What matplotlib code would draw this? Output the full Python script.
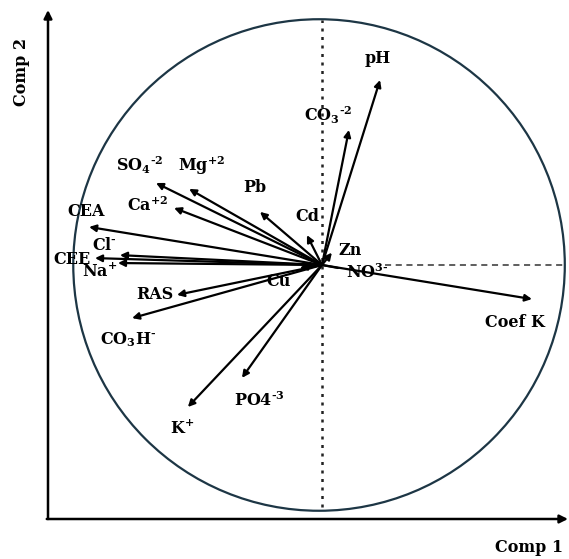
import matplotlib
matplotlib.use("Agg")
import matplotlib.pyplot as plt
import numpy as np
from matplotlib.patches import Circle

plt.rcParams['mathtext.fontset'] = 'custom'
plt.rcParams['mathtext.rm'] = 'DejaVu Serif:bold'
plt.rcParams['mathtext.it'] = 'DejaVu Serif:bold'
plt.rcParams['mathtext.bf'] = 'DejaVu Serif:bold'

# ---- data: loadings on Comp 1 / Comp 2 ----
variables = ['pH', 'CO3-2', 'Cd', 'Pb', 'Mg+2', 'SO4-2', 'Ca+2', 'CEA', 'Cl-', 'CEE',
             'Na+', 'Cu', 'RAS', 'CO3H-', 'K+', 'PO4-3', 'Coef K', 'Zn', 'NO3-']
comp1 = [0.235, 0.109, -0.061, -0.251, -0.538, -0.672, -0.599, -0.943, -0.818, -0.919,
         -0.826, -0.090, -0.587, -0.769, -0.543, -0.324, 0.850, 0.040, 0.065]
comp2 = [0.749, 0.547, 0.121, 0.215, 0.308, 0.332, 0.231, 0.154, 0.040, 0.028,
         0.008, -0.012, -0.121, -0.215, -0.575, -0.457, -0.138, 0.050, -0.012]
display = ['pH', r'CO$_3$$^{\text{-}2}$', 'Cd', 'Pb', r'Mg$^{+2}$', r'SO$_4$$^{\text{-}2}$',
           r'Ca$^{+2}$', 'CEA', r'Cl$^{\text{-}}$', 'CEE', r'Na$^{+}$', 'Cu', 'RAS',
           r'CO$_3$H$^{\text{-}}$', r'K$^{+}$', r'PO4$^{\text{-}3}$', 'Coef K', 'Zn',
           r'NO$^{3\text{-}}$']

# label placement (layout only)
label_xy = [(0.227, 0.838), (0.025, 0.607), (-0.061, 0.198), (-0.271, 0.312), (-0.486, 0.401),
            (-0.737, 0.405), (-0.704, 0.239), (-0.955, 0.215), (-0.879, 0.077), (-1.012, 0.024),
            (-0.899, -0.024), (-0.174, -0.065), (-0.676, -0.121), (-0.785, -0.304), (-0.567, -0.660),
            (-0.255, -0.551), (0.781, -0.231), (0.112, 0.057), (0.184, -0.032)]
no_head = {'NO3-'}

W, H = 569, 559
cx, cy, R = 322, 265, 247
fig = plt.figure(figsize=(W / 100, H / 100), dpi=100)
ax = fig.add_axes([0, 0, 1, 1])
ax.set_xlim(-cx / R, (W - cx) / R)
ax.set_ylim((cy - H) / R, cy / R)
ax.set_aspect('equal')
ax.axis('off')

# circle
ax.add_patch(Circle((-0.012, 0), 0.995, fill=False, ec='#1d3645', lw=1.6))
# dotted vertical line
ax.plot([0, 0], [-0.98, 0.99], color='#222222', lw=1.8, ls=(0, (1.2, 2.2)))
# dashed horizontal line
ax.plot([(385 - cx) / R, 0.98], [0, 0], color='#333333', lw=1.1, ls=(0, (4, 3)))

# main axes with arrows
x0 = (48 - cx) / R
y0 = (cy - 519) / R
ax.annotate('', xy=(x0, (cy - 10) / R), xytext=(x0, y0),
            arrowprops=dict(arrowstyle='-|>', lw=1.8, color='black', mutation_scale=12,
                            shrinkA=0, shrinkB=0))
ax.annotate('', xy=((W - 1 - cx) / R, y0), xytext=(x0 - 0.005, y0),
            arrowprops=dict(arrowstyle='-|>', lw=1.8, color='black', mutation_scale=12,
                            shrinkA=0, shrinkB=0))

fs = 11.5
fam = 'DejaVu Serif'
ax.text((22 - cx) / R, (cy - 72) / R, 'Comp 2', rotation=90, ha='center', va='center',
        fontsize=fs, fontweight='bold', family=fam)
ax.text((529 - cx) / R, (cy - 548) / R, 'Comp 1', ha='center', va='center',
        fontsize=fs, fontweight='bold', family=fam)

for name, x, y, lab, (lx, ly) in zip(variables, comp1, comp2, display, label_xy):
    style = '-' if name in no_head else '-|>'
    ax.annotate('', xy=(x, y), xytext=(0, 0),
                arrowprops=dict(arrowstyle=style, lw=1.6, color='black', mutation_scale=10,
                                shrinkA=0, shrinkB=0))
    ax.text(lx, ly, lab, ha='center', va='center', fontsize=fs, fontweight='bold', family=fam)

fig.savefig('out.png', dpi=100)
